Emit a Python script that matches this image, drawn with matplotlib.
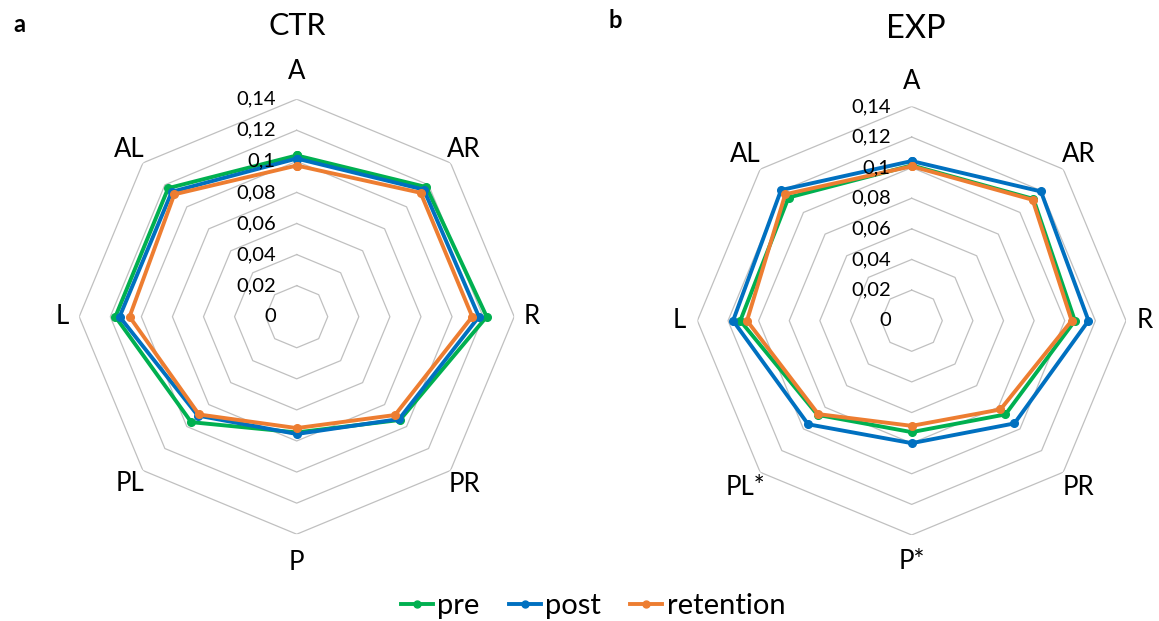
import matplotlib.pyplot as plt
import numpy as np
from matplotlib.lines import Line2D

plt.rcParams["font.family"] = ["Lato", "DejaVu Sans"]

# ========= Data =========
CTR_LABELS = ["A", "AR", "R", "PR", "P", "PL", "L", "AL"]
EXP_LABELS = ["A", "AR", "R", "PR", "P*", "PL*", "L", "AL"]

ctr_pre = [0.1038, 0.1180, 0.1223, 0.0940, 0.0745, 0.0960, 0.1167, 0.1170]
ctr_post = [0.1018, 0.1157, 0.1173, 0.0932, 0.0755, 0.0900, 0.1140, 0.1137]
ctr_retention = [0.0973, 0.1128, 0.1130, 0.0895, 0.0717, 0.0890, 0.1076, 0.1114]

exp_pre = [0.1015, 0.1125, 0.1066, 0.0866, 0.0728, 0.0870, 0.1120, 0.1138]
exp_post = [0.1043, 0.1194, 0.1155, 0.0949, 0.0800, 0.0957, 0.1167, 0.1207]
exp_retention = [0.1009, 0.1117, 0.1045, 0.0820, 0.0687, 0.0863, 0.1076, 0.1168]

SERIES = ["pre", "post", "retention"]
COLORS = {"pre": "#00B050", "post": "#0070C0", "retention": "#ED7D31"}
RTICKS = [0, 0.02, 0.04, 0.06, 0.08, 0.1, 0.12, 0.14]
RTICK_LABELS = ["0", "0,02", "0,04", "0,06", "0,08", "0,1", "0,12", "0,14"]
RMAX = 0.14


def radar(ax, labels, data, label_r):
    n = len(labels)
    ang = np.arange(n) * 2 * np.pi / n
    ang_c = np.append(ang, ang[0])

    ax.set_theta_zero_location("N")
    ax.set_theta_direction(-1)
    ax.set_ylim(0, RMAX)
    ax.axis("off")

    # octagon rings only, like the Excel radar
    for r in RTICKS[1:]:
        ax.plot(ang_c, [r] * (n + 1), color="#c0c0c0", lw=0.9, zorder=1)

    for name, vals in zip(SERIES, data):
        ax.plot(ang_c, list(vals) + [vals[0]], color=COLORS[name], lw=2.8,
                marker="o", ms=5.5, zorder=3, label=name)

    for r, t in zip(RTICKS, RTICK_LABELS):
        ax.annotate(t, xy=(0, r), xytext=(-21, 0), textcoords="offset pixels",
                    ha="right", va="center", fontsize=14.5, zorder=4)

    for a, lab, lr in zip(ang, labels, label_r):
        ax.text(a, lr, lab, ha="center", va="center", fontsize=18.5, clip_on=False)


fig = plt.figure(figsize=(11.59, 6.21), dpi=100)
W, H = 1159, 621

# panel a
cx, cy, rad = 296.7, 316.7, 217.5
ax1 = fig.add_axes([(cx - rad) / W, (H - cy - rad) / H, 2 * rad / W, 2 * rad / H], projection="polar")
radar(ax1, CTR_LABELS, [ctr_pre, ctr_post, ctr_retention],
      [0.158, 0.152, 0.151, 0.153, 0.158, 0.152, 0.151, 0.152])

# panel b
cx2, cy2, rad2 = 911.7, 320.7, 214.3
ax2 = fig.add_axes([(cx2 - rad2) / W, (H - cy2 - rad2) / H, 2 * rad2 / W, 2 * rad2 / H], projection="polar")
radar(ax2, EXP_LABELS, [exp_pre, exp_post, exp_retention],
      [0.156, 0.154, 0.152, 0.154, 0.157, 0.154, 0.152, 0.154])

fig.text(297 / W, 1 - 26 / H, "CTR", ha="center", va="center", fontsize=22)
fig.text(916 / W, 1 - 29 / H, "EXP", ha="center", va="center", fontsize=23.5)
fig.text(19 / W, 1 - 24 / H, "a", ha="center", va="center", fontsize=17, fontweight="bold")
fig.text(615 / W, 1 - 21 / H, "b", ha="center", va="center", fontsize=17, fontweight="bold")

handles = [Line2D([], [], color=COLORS[s], lw=2.8, marker="o", ms=5, markevery=[1]) for s in SERIES]
for h in handles:
    h.set_data([0, 0.5, 1], [0, 0, 0])
fig.legend(handles, SERIES, loc="center", bbox_to_anchor=(593 / W, 1 - 606 / H), ncol=3,
           frameon=False, fontsize=21, handlelength=1.1, handletextpad=0.15, columnspacing=1.0)

fig.savefig("out.png", dpi=100)
